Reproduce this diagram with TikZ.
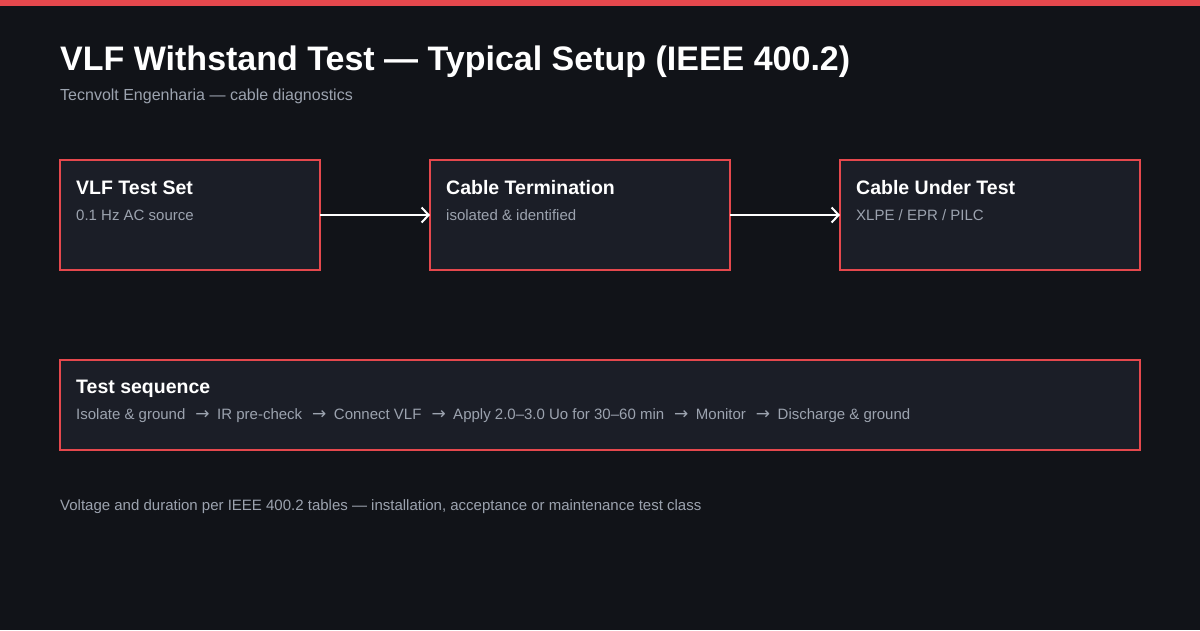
\documentclass[tikz,border=0pt]{standalone}
\usepackage{fontspec}
\setmainfont{Liberation Sans}
\newfontfamily\arrowfont{DejaVu Sans}
\usetikzlibrary{positioning,arrows.meta}
\definecolor{pagebg}{HTML}{111318}
\definecolor{boxfill}{HTML}{1B1E27}
\definecolor{accentred}{HTML}{E5484D}
\definecolor{mutedgray}{HTML}{9CA3AF}
\newcommand{\seqarrow}{\hspace*{10pt}{\arrowfont\fontsize{17}{18}\selectfont →}\hspace*{7.5pt}}

\begin{document}
\begin{tikzpicture}[x=1pt, y=1pt, node distance=110pt,
  stagebox/.style={draw=accentred, line width=2pt, fill=boxfill, minimum width=260pt, minimum height=110pt, inner sep=0pt, outer sep=0pt},
  boxtitle/.style={anchor=base west, inner sep=0pt, text=white, font=\bfseries\fontsize{19.5}{23}\selectfont},
  boxnote/.style={anchor=base west, inner sep=0pt, text=mutedgray, font=\fontsize{15}{18}\selectfont},
  flow/.style={-{Straight Barb[length=7pt,width=15pt]}, line width=2pt, white}]
% page and top bar
\fill[pagebg] (0,0) rectangle (1200,-630);
\fill[accentred] (0,0) rectangle (1200,-6);
\node[anchor=base west, inner sep=0pt, text=white, font=\bfseries\fontsize{34}{40}\selectfont] (title) at (60,-70) {VLF Withstand Test — Typical Setup (IEEE 400.2)};
\node[anchor=base west, inner sep=0pt, text=mutedgray, font=\fontsize{16}{19}\selectfont] (subtitle) at (60,-100) {Tecnvolt Engenharia — cable diagnostics};
% setup chain
\node[stagebox, anchor=north west] (vlf) at (60,-160) {};
\node[stagebox, minimum width=300pt, right=of vlf] (term) {};
\node[stagebox, minimum width=300pt, right=of term] (cut) {};
\node[boxtitle] (vlf-title) at ([shift={(16,-34)}]vlf.north west) {VLF Test Set};
\node[boxnote] (vlf-note) at ([shift={(16,-60)}]vlf.north west) {0.1 Hz AC source};
\node[boxtitle] (term-title) at ([shift={(16,-34)}]term.north west) {Cable Termination};
\node[boxnote] (term-note) at ([shift={(16,-60)}]term.north west) {isolated \& identified};
\node[boxtitle] (cut-title) at ([shift={(16,-34)}]cut.north west) {Cable Under Test};
\node[boxnote] (cut-note) at ([shift={(16,-60)}]cut.north west) {XLPE / EPR / PILC};
\draw[flow] (vlf) -- (term);
\draw[flow] (term) -- (cut);
% sequence
\node[stagebox, minimum width=1080pt, minimum height=90pt, below=90pt of vlf.south west, anchor=north west] (seq) {};
\node[boxtitle] (seq-title) at ([shift={(16,-33)}]seq.north west) {Test sequence};
\node[boxnote] (seq-note) at ([shift={(16,-59)}]seq.north west) {Isolate \& ground\seqarrow IR pre-check\seqarrow Connect VLF\seqarrow Apply 2.0–3.0 Uo for 30–60 min\seqarrow Monitor\seqarrow Discharge \& ground};
\node[anchor=base west, inner sep=0pt, text=mutedgray, font=\fontsize{15}{17}\selectfont] (footer) at (60,-510) {Voltage and duration per IEEE 400.2 tables — installation, acceptance or maintenance test class};
\end{tikzpicture}
\end{document}
